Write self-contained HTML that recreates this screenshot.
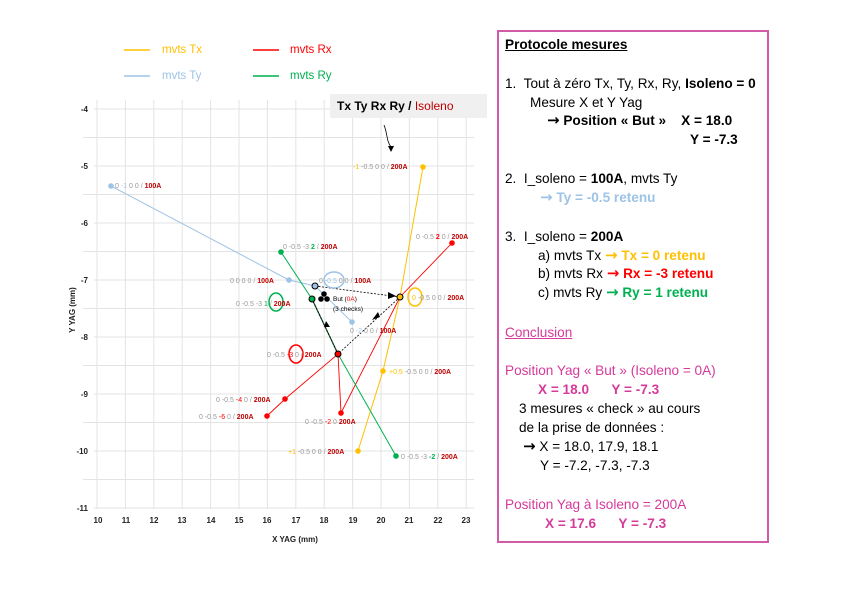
<!DOCTYPE html>
<html><head><meta charset="utf-8"><style>
html,body{margin:0;padding:0;background:#fff;}
body{width:842px;height:595px;position:relative;overflow:hidden;font-family:"Liberation Sans",sans-serif;}
.box{position:absolute;left:497px;top:30px;width:268px;height:509px;border:2px solid #d35aa6;}
.t{position:absolute;font-size:13.6px;white-space:nowrap;color:#000;}
.p{color:#d63a9a}
.b{font-weight:bold}
.ar{font-size:15px;font-weight:bold;font-family:"DejaVu Sans",sans-serif;line-height:10px}
</style></head><body>
<svg width="842" height="595" style="position:absolute;left:0;top:0" font-family="Liberation Sans, sans-serif">
<g stroke="#e3e3e3" stroke-width="1">
<line x1="97" y1="100" x2="97" y2="509"/><line x1="125.4" y1="100" x2="125.4" y2="509"/><line x1="153.8" y1="100" x2="153.8" y2="509"/><line x1="182.2" y1="100" x2="182.2" y2="509"/><line x1="210.6" y1="100" x2="210.6" y2="509"/><line x1="239" y1="100" x2="239" y2="509"/><line x1="267.4" y1="100" x2="267.4" y2="509"/><line x1="295.8" y1="100" x2="295.8" y2="509"/><line x1="324.2" y1="100" x2="324.2" y2="509"/><line x1="352.6" y1="100" x2="352.6" y2="509"/><line x1="381" y1="100" x2="381" y2="509"/><line x1="409.4" y1="100" x2="409.4" y2="509"/><line x1="437.8" y1="100" x2="437.8" y2="509"/><line x1="466.2" y1="100" x2="466.2" y2="509"/>
<line x1="94" y1="109" x2="474" y2="109"/><line x1="94" y1="166" x2="474" y2="166"/><line x1="94" y1="223" x2="474" y2="223"/><line x1="94" y1="280" x2="474" y2="280"/><line x1="94" y1="337" x2="474" y2="337"/><line x1="94" y1="394" x2="474" y2="394"/><line x1="94" y1="451" x2="474" y2="451"/><line x1="94" y1="508" x2="474" y2="508"/>
<line x1="83" y1="137.5" x2="474" y2="137.5"/><line x1="83" y1="194.5" x2="474" y2="194.5"/><line x1="83" y1="251.5" x2="474" y2="251.5"/><line x1="83" y1="308.5" x2="474" y2="308.5"/><line x1="83" y1="365.5" x2="474" y2="365.5"/><line x1="83" y1="422.5" x2="474" y2="422.5"/><line x1="83" y1="479.5" x2="474" y2="479.5"/>
</g>
<g font-size="8" font-weight="bold" fill="#222" text-anchor="end">
<text x="88" y="112">-4</text><text x="88" y="169">-5</text><text x="88" y="226">-6</text><text x="88" y="283">-7</text><text x="88" y="340">-8</text><text x="88" y="397">-9</text><text x="88" y="454">-10</text><text x="88" y="511">-11</text>
</g>
<g font-size="8" font-weight="bold" fill="#222" text-anchor="middle">
<text x="98" y="523">10</text><text x="126" y="523">11</text><text x="154" y="523">12</text><text x="182" y="523">13</text><text x="211" y="523">14</text><text x="239" y="523">15</text><text x="267" y="523">16</text><text x="296" y="523">17</text><text x="324" y="523">18</text><text x="353" y="523">19</text><text x="381" y="523">20</text><text x="409" y="523">21</text><text x="438" y="523">22</text><text x="466" y="523">23</text>
</g>
<text x="295" y="542" font-size="8" font-weight="bold" text-anchor="middle" fill="#222">X YAG (mm)</text>
<text transform="translate(75,310) rotate(-90)" font-size="8" font-weight="bold" text-anchor="middle" fill="#222">Y YAG (mm)</text>
<line x1="124" y1="50" x2="150" y2="50" stroke="#ffc000" stroke-width="1.5"/><text x="162" y="53" font-size="11.5" fill="#ffc000">mvts Tx</text>
<line x1="124" y1="76" x2="150" y2="76" stroke="#9dc3e6" stroke-width="1.5"/><text x="162" y="79" font-size="11.5" fill="#9dc3e6">mvts Ty</text>
<line x1="253" y1="50" x2="279" y2="50" stroke="#ff0000" stroke-width="1.5"/><text x="290" y="53" font-size="11.5" fill="#ff0000">mvts Rx</text>
<line x1="253" y1="76" x2="279" y2="76" stroke="#00b050" stroke-width="1.5"/><text x="290" y="79" font-size="11.5" fill="#00b050">mvts Ry</text>
<rect x="330" y="94" width="157" height="24" fill="#f0f0f0"/>
<text x="337" y="110" font-size="12" font-weight="bold" fill="#000">Tx  Ty  Rx  Ry  / <tspan fill="#c00000" font-weight="normal">Isoleno</tspan></text>
<path d="M384,125 C388,135 386,140 391,147" fill="none" stroke="#000" stroke-width="0.8"/><polygon points="388,146 394,146 391,152" fill="#000"/>
<polyline points="111,186 289,280 315,286 352,322" fill="none" stroke="#9dc3e6" stroke-width="1"/>
<polyline points="423,167 400,297 383,371 358,451" fill="none" stroke="#ffc000" stroke-width="1"/>
<polyline points="452,243 400,297 341,413 338,354 285,399 267,416" fill="none" stroke="#ff0000" stroke-width="0.9"/>
<polyline points="281,252 312,299" fill="none" stroke="#00b050" stroke-width="1"/>
<polyline points="312,299 338,354" fill="none" stroke="#0a5a2a" stroke-width="1.2"/>
<polyline points="338,354 396,456" fill="none" stroke="#00b050" stroke-width="1"/>
<g stroke="#000" stroke-width="0.8" stroke-dasharray="2,1.5" fill="none">
<line x1="315" y1="286" x2="400" y2="297"/><line x1="400" y1="297" x2="338" y2="354"/><line x1="338" y1="354" x2="312" y2="299"/>
</g>
<polygon points="388,292 396,296 388,299" fill="#000"/>
<polygon points="378,312 372,320 380,317" fill="#000"/>
<polygon points="324,327 326,321 330,327" fill="#000"/>
<g>
<circle cx="111" cy="186" r="2.8" fill="#9dc3e6"/><circle cx="289" cy="280" r="2.8" fill="#9dc3e6"/><circle cx="352" cy="322" r="2.8" fill="#9dc3e6"/>
<circle cx="315" cy="286" r="3" fill="#9dc3e6" stroke="#000" stroke-width="1"/>
<circle cx="423" cy="167" r="2.8" fill="#ffc000"/><circle cx="383" cy="371" r="2.8" fill="#ffc000"/><circle cx="358" cy="451" r="2.8" fill="#ffc000"/>
<circle cx="400" cy="297" r="3" fill="#ffc000" stroke="#000" stroke-width="1"/>
<circle cx="452" cy="243" r="2.8" fill="#ff0000"/><circle cx="285" cy="399" r="2.8" fill="#ff0000"/><circle cx="267" cy="416" r="2.8" fill="#ff0000"/><circle cx="341" cy="413" r="2.8" fill="#ff0000"/>
<circle cx="338" cy="354" r="3" fill="#ff0000" stroke="#000" stroke-width="1"/>
<circle cx="281" cy="252" r="2.8" fill="#00b050"/><circle cx="396" cy="456" r="2.8" fill="#00b050"/>
<circle cx="312" cy="299" r="3" fill="#00b050" stroke="#000" stroke-width="1"/>
<circle cx="324" cy="294" r="2.8" fill="#000"/><circle cx="321" cy="299" r="2.8" fill="#000"/><circle cx="327" cy="299" r="2.8" fill="#000"/>
</g>
<ellipse cx="334" cy="280" rx="10" ry="8" fill="none" stroke="#9dc3e6" stroke-width="1.5"/>
<ellipse cx="415" cy="297" rx="7" ry="9" fill="none" stroke="#ffc000" stroke-width="1.5"/>
<ellipse cx="276" cy="302" rx="7" ry="9" fill="none" stroke="#00b050" stroke-width="1.5"/>
<ellipse cx="296" cy="354" rx="7" ry="9" fill="none" stroke="#ff0000" stroke-width="1.5"/>
<g font-size="7" fill="#999">
<text x="115" y="188">0 <tspan fill="#9dc3e6">-1</tspan> 0 0 / <tspan fill="#c00000" font-weight="bold">100A</tspan></text>
<text x="353" y="169"><tspan fill="#ffc000">-1</tspan> -0.5 0 0 / <tspan fill="#c00000" font-weight="bold">200A</tspan></text>
<text x="416" y="239">0 -0.5 <tspan fill="#ff0000" font-weight="bold">2</tspan> 0 / <tspan fill="#c00000" font-weight="bold">200A</tspan></text>
<text x="283" y="249">0 -0.5 -3 <tspan fill="#00b050" font-weight="bold">2</tspan> / <tspan fill="#c00000" font-weight="bold">200A</tspan></text>
<text x="230" y="283">0 0 0 0 / <tspan fill="#c00000" font-weight="bold">100A</tspan></text>
<text x="319" y="283">0 <tspan fill="#9dc3e6">-0.5</tspan> 0 0 / <tspan fill="#c00000" font-weight="bold">100A</tspan></text>
<text x="236" y="306">0 -0.5 -3 <tspan fill="#00b050">1</tspan> / <tspan fill="#c00000" font-weight="bold">200A</tspan></text>
<text x="412" y="300"><tspan fill="#ffc000">0</tspan>  -0.5 0 0 / <tspan fill="#c00000" font-weight="bold">200A</tspan></text>
<text x="350" y="333">0 <tspan fill="#9dc3e6">-2</tspan> 0 0 / <tspan fill="#c00000" font-weight="bold">100A</tspan></text>
<text x="267" y="357">0 -0.5 <tspan fill="#ff0000">-3</tspan>  0 / <tspan fill="#c00000" font-weight="bold">200A</tspan></text>
<text x="389" y="374"><tspan fill="#ffc000">+0.5</tspan> -0.5 0 0 / <tspan fill="#c00000" font-weight="bold">200A</tspan></text>
<text x="216" y="402">0 -0.5 <tspan fill="#ff0000">-4</tspan> 0 / <tspan fill="#c00000" font-weight="bold">200A</tspan></text>
<text x="199" y="419">0 -0.5 <tspan fill="#ff0000">-6</tspan> 0 / <tspan fill="#c00000" font-weight="bold">200A</tspan></text>
<text x="305" y="424">0 -0.5 <tspan fill="#ff0000">-2</tspan> 0  <tspan fill="#c00000" font-weight="bold">200A</tspan></text>
<text x="288" y="454"><tspan fill="#ffc000">+1</tspan> -0.5 0 0 / <tspan fill="#c00000" font-weight="bold">200A</tspan></text>
<text x="401" y="459">0 -0.5 -3 <tspan fill="#00b050" font-weight="bold">-2</tspan> / <tspan fill="#c00000" font-weight="bold">200A</tspan></text>
</g>
<text x="333" y="301" font-size="6.5" fill="#000">But (<tspan fill="#ff0000">0A</tspan>)</text>
<text x="333" y="311" font-size="6.5" fill="#000">(3 checks)</text>
</svg>
<div class="box"></div>
<div class="t b" style="left:505px;top:37px;text-decoration:underline">Protocole mesures</div>
<div class="t" style="left:505px;top:76px">1.&nbsp; Tout à zéro Tx, Ty, Rx, Ry, <b>Isoleno = 0</b></div>
<div class="t" style="left:530px;top:95px">Mesure X et Y Yag</div>
<div class="t b" style="left:547px;top:113px"><span class="ar">→</span> Position « But »&nbsp;&nbsp;&nbsp; X = 18.0</div>
<div class="t b" style="left:690px;top:132px">Y = -7.3</div>
<div class="t" style="left:505px;top:171px">2.&nbsp; I_soleno = <b>100A</b>, mvts Ty</div>
<div class="t b" style="left:540px;top:190px;color:#9dc3e6"><span class="ar">→</span> Ty = -0.5 retenu</div>
<div class="t" style="left:505px;top:229px">3.&nbsp; I_soleno = <b>200A</b></div>
<div class="t" style="left:538px;top:248px">a) mvts Tx <b style="color:#ffc000"><span class="ar">→</span> Tx = 0 retenu</b></div>
<div class="t" style="left:538px;top:266px">b) mvts Rx <b style="color:#ff0000"><span class="ar">→</span> Rx = -3 retenu</b></div>
<div class="t" style="left:538px;top:285px">c) mvts Ry <b style="color:#00b050"><span class="ar">→</span> Ry = 1 retenu</b></div>
<div class="t p" style="left:505px;top:325px;text-decoration:underline">Conclusion</div>
<div class="t p" style="left:505px;top:363px">Position Yag « But » (Isoleno = 0A)</div>
<div class="t p b" style="left:538px;top:382px">X = 18.0&nbsp;&nbsp;&nbsp;&nbsp;&nbsp; Y = -7.3</div>
<div class="t" style="left:519px;top:401px">3 mesures « check » au cours</div>
<div class="t" style="left:519px;top:420px">de la prise de données :</div>
<div class="t" style="left:523px;top:439px"><span class="ar">→</span> X = 18.0, 17.9, 18.1</div>
<div class="t" style="left:540px;top:458px">Y = -7.2, -7.3, -7.3</div>
<div class="t p" style="left:505px;top:497px">Position Yag à Isoleno = 200A</div>
<div class="t p b" style="left:545px;top:516px">X = 17.6&nbsp;&nbsp;&nbsp;&nbsp;&nbsp; Y = -7.3</div>
</body></html>
